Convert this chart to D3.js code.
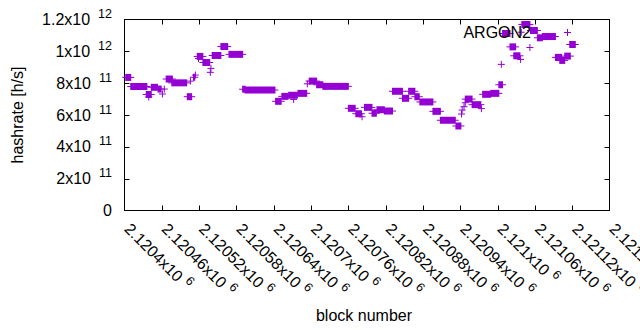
<!DOCTYPE html>
<html><head><meta charset="utf-8">
<script src="https://cdnjs.cloudflare.com/ajax/libs/d3/7.8.5/d3.min.js"></script>
<style>body{margin:0;background:#fff}svg{display:block;font-family:"Liberation Sans",Arial,sans-serif}</style>
</head><body><svg id="c" width="640" height="330"></svg>
<script>
// Runs of blocks with the same hashrate (start block, end block, hashrate in h/s); single blocks have start == end
const runStart = [2120402,2120410,2120435,2120439,2120443,2120454,2120461,2120464,2120467,2120476,2120501,2120506,2120511,2120514,2120517,2120519,2120526,2120539,2120538,2120541,2120555,2120568,2120590,2120594,2120643,2120653,2120664,2120672,2120679,2120694,2120697,2120709,2120719,2120760,2120772,2120782,2120786,2120798,2120806,2120818,2120831,2120847,2120857,2120867,2120875,2120896,2120908,2120933,2120942,2120943,2120946,2120948,2120948,2120959,2120974,2120976,2120989,2121002,2121006,2121008,2121020,2121026,2121037,2121038,2121039,2121052,2121053,2121064,2121072,2121093,2121100,2121108,2121116];
const runEnd   = [2120410,2120436,2120443,2120439,2120453,2120459,2120461,2120464,2120477,2120500,2120508,2120506,2120513,2120514,2120526,2120519,2120537,2120539,2120538,2120555,2120566,2120590,2120594,2120642,2120652,2120663,2120678,2120672,2120693,2120694,2120709,2120719,2120760,2120771,2120781,2120782,2120798,2120805,2120818,2120831,2120847,2120857,2120867,2120874,2120896,2120908,2120932,2120941,2120942,2120943,2120946,2120948,2120959,2120973,2120974,2120989,2121002,2121008,2121006,2121020,2121029,2121036,2121037,2121038,2121052,2121052,2121064,2121072,2121093,2121103,2121108,2121117,2121125];
const runValue = [8.36e11,7.79e11,7.29e11,7.13e11,7.74e11,7.63e11,7.32e11,7.63e11,8.26e11,8.02e11,7.15e11,8.13e11,8.37e11,8.51e11,9.68e11,9.55e11,9.30e11,8.93e11,8.68e11,9.74e11,10.30e11,9.81e11,7.62e11,7.57e11,6.86e11,7.17e11,7.24e11,6.98e11,7.36e11,7.96e11,8.13e11,7.90e11,7.80e11,6.42e11,6.08e11,5.89e11,6.48e11,6.11e11,6.33e11,6.25e11,7.49e11,7.05e11,7.49e11,7.15e11,6.82e11,6.23e11,5.67e11,5.31e11,6.06e11,6.31e11,6.52e11,6.77e11,7.00e11,6.65e11,6.40e11,7.30e11,7.36e11,7.90e11,9.18e11,11.12e11,10.28e11,9.72e11,9.49e11,11.20e11,11.69e11,10.24e11,11.31e11,10.85e11,10.93e11,9.62e11,9.43e11,9.70e11,10.43e11];

const xTicks = [2120400,2120460,2120520,2120580,2120640,2120700,2120760,2120820,2120880,2120940,2121000,2121060,2121120,2121180];
const xTickMantissa = ["2.1204","2.12046","2.12052","2.12058","2.12064","2.1207","2.12076","2.12082","2.12088","2.12094","2.121","2.12106","2.12112","2.12118"];
const xTickExponent = ["6","6","6","6","6","6","6","6","6","6","6","6","6","6"];
const yTicks = [0,2e11,4e11,6e11,8e11,1e12,1.2e12];
const yTickMantissa = ["0","2x10","4x10","6x10","8x10","1x10","1.2x10"];
const yTickExponent = ["","11","11","11","11","12","12"];
const seriesName = "ARGON2";
const xTitle = "block number";
const yTitle = "hashrate [h/s]";

const color = "#9400d3";
const svg = d3.select("#c");
const L = 124.5, R = 609.5, T = 19.5, B = 210.5;
const x = d3.scaleLinear().domain([2120400, 2121180]).range([L, R]);
const y = d3.scaleLinear().domain([0, 1.2e12]).range([B, T]);
const fs = 16, sfs = 12.5;

// border
svg.append("rect").attr("x", L).attr("y", T).attr("width", R - L).attr("height", B - T)
  .attr("fill", "none").attr("stroke", "#000").attr("stroke-width", 1);

// y ticks (mirrored)
const tl = 5;
yTicks.forEach((v, i) => {
  const yy = Math.round(y(v)) + 0.5;
  if (i > 0 && i < yTicks.length - 1) {
    svg.append("line").attr("x1", L).attr("x2", L + tl).attr("y1", yy).attr("y2", yy).attr("stroke", "#000");
    svg.append("line").attr("x1", R).attr("x2", R - tl).attr("y1", yy).attr("y2", yy).attr("stroke", "#000");
  }
  const t = svg.append("text").attr("x", 112).attr("y", y(v) + 5.5).attr("text-anchor", "end")
    .attr("font-size", fs).attr("fill", "#000");
  t.append("tspan").text(yTickMantissa[i]);
  if (yTickExponent[i]) t.append("tspan").attr("dx", 8).attr("dy", -7).attr("font-size", sfs).text(yTickExponent[i]);
});

// x ticks (mirrored)
xTicks.forEach((v, i) => {
  const xx = Math.round(x(v)) + 0.5;
  if (i > 0 && i < xTicks.length - 1) {
    svg.append("line").attr("x1", xx).attr("x2", xx).attr("y1", B).attr("y2", B - tl).attr("stroke", "#000");
    svg.append("line").attr("x1", xx).attr("x2", xx).attr("y1", T).attr("y2", T + tl).attr("stroke", "#000");
  }
  const g = svg.append("g").attr("transform", `translate(${x(v) - 1},${230}) rotate(45)`);
  const t = g.append("text").attr("font-size", fs).attr("fill", "#000");
  t.append("tspan").text(xTickMantissa[i] + "x10");
  t.append("tspan").attr("dx", 5).attr("dy", -7).attr("font-size", sfs).text(xTickExponent[i]);
});

// axis titles
svg.append("text").attr("transform", `translate(23,${(T + B) / 2}) rotate(-90)`).attr("text-anchor", "middle")
  .attr("font-size", fs).text(yTitle);
svg.append("text").attr("x", 364).attr("y", 321).attr("text-anchor", "middle").attr("font-size", fs).text(xTitle);

// data: plus markers, dense runs appear as filled blocks
const runs = runStart.map((s, i) => ({ s, e: runEnd[i], v: runValue[i] }));
const gd = svg.append("g");
runs.forEach(d => {
  const x0 = x(d.s), x1 = x(d.e), yy = y(d.v);
  gd.append("rect").attr("x", x0 - 0.5).attr("y", yy - 3.5).attr("width", x1 - x0 + 1).attr("height", 7).attr("fill", color);
  gd.append("line").attr("x1", x0 - 3.5).attr("x2", x1 + 3.5).attr("y1", yy).attr("y2", yy).attr("stroke", color).attr("stroke-width", 1);
});

// legend
svg.append("text").attr("x", 531).attr("y", 37.5).attr("text-anchor", "end").attr("font-size", fs).attr("fill", "#000").text(seriesName);
const lx = 567.5, ly = 32.5;
svg.append("line").attr("x1", lx - 3.5).attr("x2", lx + 3.5).attr("y1", ly).attr("y2", ly).attr("stroke", color);
svg.append("line").attr("x1", lx).attr("x2", lx).attr("y1", ly - 3.5).attr("y2", ly + 3.5).attr("stroke", color);
</script></body></html>
